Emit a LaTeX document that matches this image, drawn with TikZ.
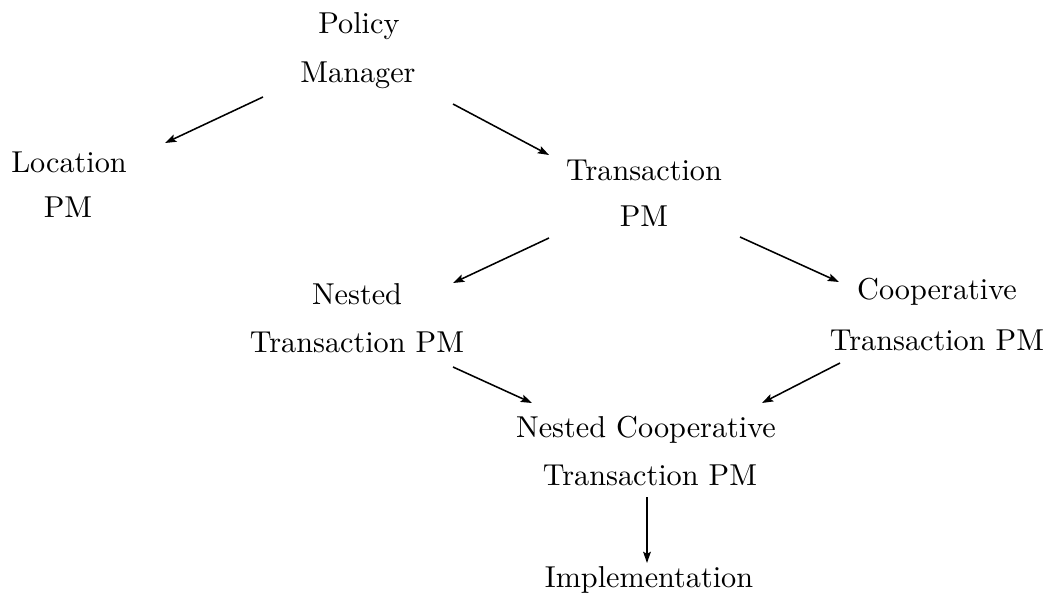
\documentclass[tikz,border=0pt]{standalone}
\usetikzlibrary{arrows.meta}
\begin{document}
\begin{tikzpicture}[x=0.025cm, y=-0.025cm,
  lbl/.style={anchor=base, inner sep=0pt, font=\normalsize, scale=2.15},
  link/.style={line width=1.1pt, -{Stealth[length=8pt,width=5.5pt,inset=1.5pt]}}]
  \useasboundingbox (0,0) rectangle (1054,597);

  % labels, one node per line of text (base line positions)
  \node[lbl] (pol1) at (359,34)  {Policy};
  \node[lbl] (pol2) at (358,83)  {Manager};
  \node[lbl] (loc1) at (69,173)  {Location};
  \node[lbl] (loc2) at (68,218)  {PM};
  \node[lbl] (tra1) at (644,181) {Transaction};
  \node[lbl] (tra2) at (644,227) {PM};
  \node[lbl] (nes1) at (357,305) {Nested};
  \node[lbl] (nes2) at (357,352) {Transaction PM};
  \node[lbl] (coo1) at (937,300) {Cooperative};
  \node[lbl] (coo2) at (937,350) {Transaction PM};
  \node[lbl] (nct1) at (646,437) {Nested Cooperative};
  \node[lbl] (nct2) at (650,485) {Transaction PM};
  \node[lbl] (impl) at (649,587) {Implementation};

  % connector end points
  \coordinate (polL) at (263,97);
  \coordinate (locT) at (165,143);
  \coordinate (polR) at (453,104);
  \coordinate (traT) at (549,155);
  \coordinate (traL) at (549,238);
  \coordinate (nesT) at (453,283);
  \coordinate (traR) at (740,237);
  \coordinate (cooT) at (839,282);
  \coordinate (nesB) at (453,367);
  \coordinate (nctL) at (532,403);
  \coordinate (cooB) at (840,363);
  \coordinate (nctR) at (762,403);
  \coordinate (nctB) at (647,497);
  \coordinate (impT) at (647,563);

  \draw[link] (polL) -- (locT);
  \draw[link] (polR) -- (traT);
  \draw[link] (traL) -- (nesT);
  \draw[link] (traR) -- (cooT);
  \draw[link] (nesB) -- (nctL);
  \draw[link] (cooB) -- (nctR);
  \draw[link] (nctB) -- (impT);
\end{tikzpicture}
\end{document}
